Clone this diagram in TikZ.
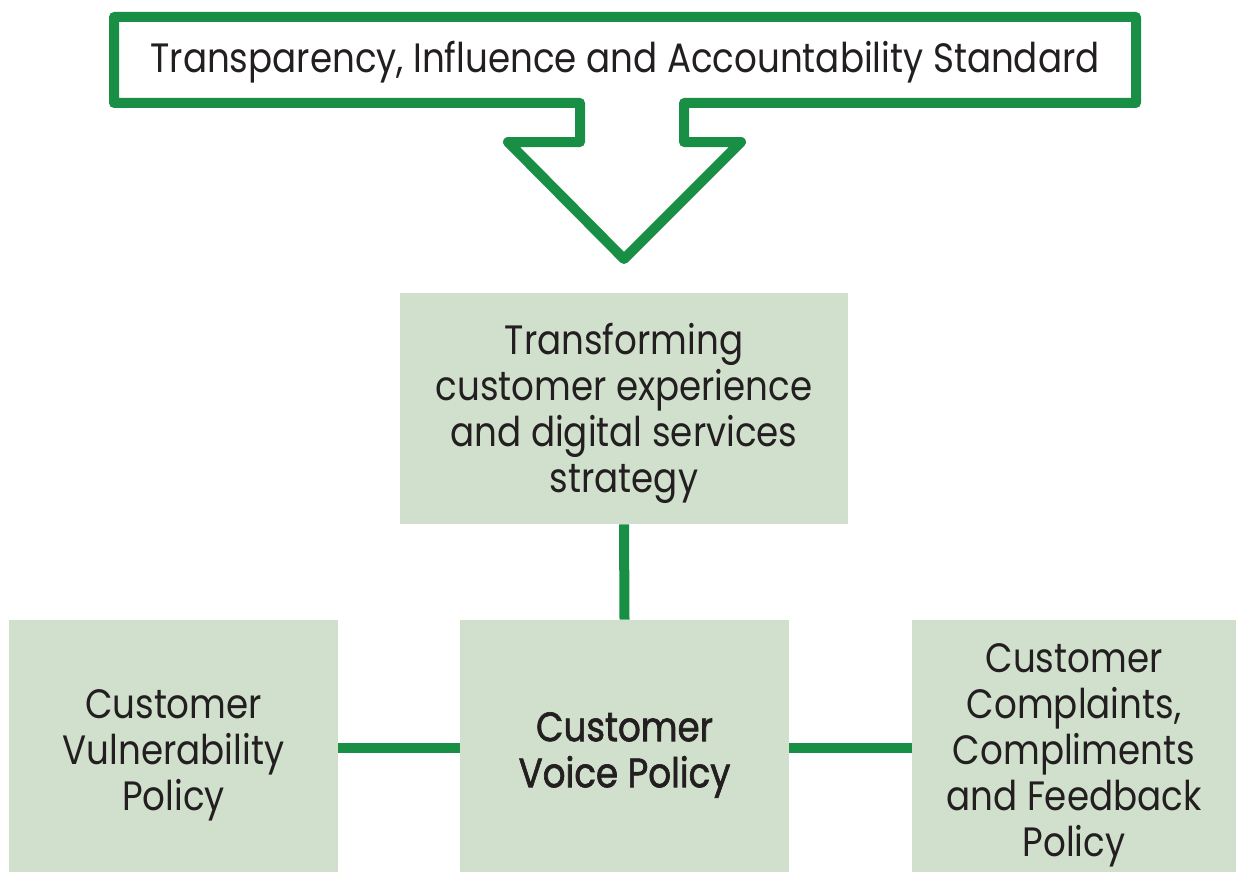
\documentclass[tikz,border=0pt]{standalone}
\usepackage{fontspec}
\setmainfont[FakeStretch=0.87]{Poppins}
\newfontfamily\semibold[FakeStretch=0.87, FakeBold=1.6]{Poppins}
\definecolor{leafgreen}{HTML}{188F45}
\definecolor{sage}{HTML}{D1E0CD}
\definecolor{ink}{HTML}{231F20}
\begin{document}
\begin{tikzpicture}[x=0.5pt,y=-0.5pt,
  policybox/.style={fill=sage, draw=none, inner sep=0pt},
  boxtext/.style={align=center, text=ink, yshift=-2.5pt,
    font=\fontsize{20.5}{23}\selectfont},
  link/.style={draw=leafgreen, line width=5pt}]
\clip (0,0) rectangle (1236,872);
\fill[white] (0,0) rectangle (1236,872);

% standard callout with downward arrow
\draw[leafgreen, line width=5pt, line join=round]
  (114,17) -- (1136,17) -- (1136,103) -- (684,103) -- (684,142) -- (741,142)
  -- (624,259) -- (508,142) -- (580,142) -- (580,103) -- (114,103) -- cycle;
\node[text=ink, font=\fontsize{20.5}{23}\selectfont] (standard) at (625,62)
  {Transparency, Influence and Accountability Standard};

% boxes
\node[policybox, minimum width=224pt, minimum height=115.5pt,
  label={[boxtext]center:Transforming\\customer experience\\and digital services\\strategy}]
  (strategy) at (624,408.5) {};
\node[policybox, minimum width=164.5pt, minimum height=130pt,
  label={[boxtext]center:Customer\\Vulnerability\\Policy}]
  (vuln) at (173.5,750) {};
\node[policybox, minimum width=164.5pt, minimum height=130pt,
  label={[boxtext, font=\fontsize{20.5}{23}\semibold]center:Customer\\Voice Policy}]
  (voice) at (624.5,750) {};
\node[policybox, minimum width=162pt, minimum height=130pt,
  label={[boxtext]center:Customer\\Complaints,\\Compliments\\and Feedback\\Policy}]
  (complaints) at (1074,750) {};

% connectors
\draw[link] (strategy.south) -- (voice.north);
\draw[link] ([yshift=1pt]vuln.east) -- ([yshift=1pt]voice.west);
\draw[link] ([yshift=1pt]voice.east) -- ([yshift=1pt]complaints.west);
\end{tikzpicture}
\end{document}
